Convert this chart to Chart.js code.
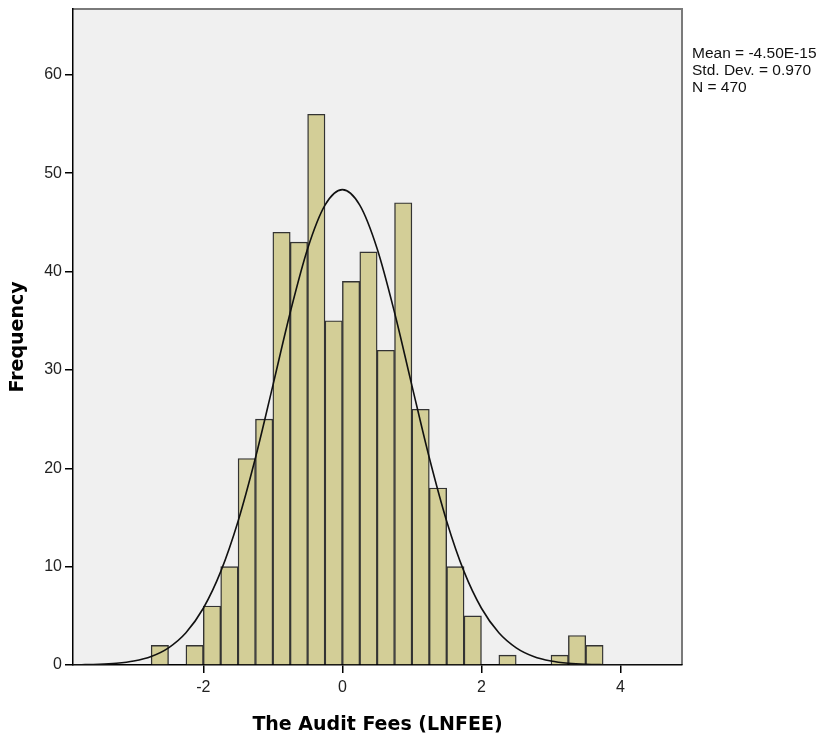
<!DOCTYPE html>
<html>
<head>
<meta charset="utf-8">
<script src="https://cdn.jsdelivr.net/npm/chart.js@4/dist/chart.umd.min.js"></script>
<style>
  html, body { margin: 0; padding: 0; background: #fff; }
  #wrap { width: 820px; height: 742px; }
</style>
</head>
<body>
<div id="wrap"><canvas id="histChart" width="820" height="742"></canvas></div>
<script>
// histogram bins (width 0.25), centres and frequencies
var binCenters = [-2.625, -2.375, -2.125, -1.875, -1.625, -1.375, -1.125, -0.875, -0.625, -0.375,
                  -0.125, 0.125, 0.375, 0.625, 0.875, 1.125, 1.375, 1.625, 1.875, 2.125,
                  2.375, 2.625, 2.875, 3.125, 3.375, 3.625];
var counts = [2, 0, 2, 6, 10, 21, 25, 44, 43, 56,
              35, 39, 42, 32, 47, 26, 18, 10, 5, 0,
              1, 0, 0, 1, 3, 2];

// normal curve
var curveX = [-3.875, -3.75, -3.5, -3.25, -3, -2.75, -2.5, -2.25, -2, -1.75, -1.5, -1.25, -1, -0.75, -0.5, -0.25,
              0, 0.25, 0.5, 0.75, 1, 1.25, 1.5, 1.75, 2, 2.25, 2.5, 2.75, 3, 3.25, 3.5, 3.75, 4, 4.25, 4.5, 4.75, 4.875];
var curveY = [0.02, 0.03, 0.07, 0.18, 0.41, 0.87, 1.75, 3.28, 5.77, 9.49, 14.62, 21.07, 28.41, 35.84, 42.32, 46.75,
              48.33, 46.75, 42.32, 35.84, 28.41, 21.07, 14.62, 9.49, 5.77, 3.28, 1.75, 0.87, 0.41, 0.18, 0.07, 0.03, 0.01, 0, 0, 0, 0];

var xTicks = [-2, 0, 2, 4];
var yTicks = [0, 10, 20, 30, 40, 50, 60];
var statLines = ['Mean = -4.50E-15', 'Std. Dev. = 0.970', 'N = 470'];

var tickFont = { family: 'Liberation Sans, Arial, sans-serif', size: 16 };
var titleFont = { family: 'DejaVu Sans, Verdana, sans-serif', size: 19, weight: 'bold' };

var framePlugin = {
    id: 'frame',
    beforeDraw: function (chart) {
        var a = chart.chartArea, ctx = chart.ctx;
        ctx.save();
        ctx.fillStyle = '#f0f0f0';
        ctx.fillRect(a.left, a.top, a.right - a.left, a.bottom - a.top);
        ctx.strokeStyle = '#7a7a7a';
        ctx.lineWidth = 2;
        ctx.beginPath();
        ctx.moveTo(a.left, a.top);
        ctx.lineTo(a.right, a.top);
        ctx.lineTo(a.right, a.bottom);
        ctx.stroke();
        ctx.restore();
    },
    afterDraw: function (chart) {
        var a = chart.chartArea, ctx = chart.ctx;
        ctx.save();
        ctx.fillStyle = '#111';
        ctx.font = '15.5px "Liberation Sans", Arial, sans-serif';
        ctx.textBaseline = 'alphabetic';
        statLines.forEach(function (s, i) {
            ctx.fillText(s, a.right + 10, 58 + i * 16.8);
        });
        ctx.restore();
    }
};

var ctx = document.getElementById('histChart');
var histChart = new Chart(ctx, {
    type: 'bar',
    data: {
        datasets: [{
            type: 'line',
            data: curveX.map(function (x, i) { return { x: x, y: curveY[i] }; }),
            borderColor: '#111',
            borderWidth: 1.6,
            pointRadius: 0,
            cubicInterpolationMode: 'monotone',
            fill: false,
            order: 0
        }, {
            type: 'bar',
            data: binCenters.map(function (x, i) { return { x: x, y: counts[i] }; }),
            backgroundColor: '#d3ce97',
            borderColor: '#333',
            borderWidth: 1.4,
            barPercentage: 1,
            categoryPercentage: 1,
            order: 1
        }]
    },
    options: {
        responsive: false,
        animation: false,
        layout: { padding: { left: 0, top: 9, right: 138, bottom: 0 } },
        plugins: { legend: { display: false }, tooltip: { enabled: false } },
        scales: {
            x: {
                type: 'linear',
                offset: false,
                min: -3.874,
                max: 4.884,
                afterBuildTicks: function (scale) {
                    scale.ticks = xTicks.map(function (v) { return { value: v }; });
                },
                afterFit: function (scale) {
                    scale.height = 77;
                    scale.paddingLeft = 0;
                    scale.paddingRight = 0;
                },
                grid: { offset: false, drawOnChartArea: false, drawTicks: true, tickLength: 8, color: '#000', lineWidth: 1.5 },
                border: { display: true, color: '#000', width: 1.5 },
                ticks: { font: tickFont, color: '#222', padding: 5, maxRotation: 0 },
                title: { display: true, text: 'The Audit Fees (LNFEE)', font: titleFont, color: '#000', padding: { top: 4, bottom: 6 } }
            },
            y: {
                min: 0,
                max: 66.7,
                afterBuildTicks: function (scale) {
                    scale.ticks = yTicks.map(function (v) { return { value: v }; });
                },
                afterFit: function (scale) {
                    scale.width = 73;
                    scale.paddingTop = 0;
                    scale.paddingBottom = 0;
                },
                grid: { drawOnChartArea: false, drawTicks: true, tickLength: 8, color: '#000', lineWidth: 1.5 },
                border: { display: true, color: '#000', width: 1.5 },
                ticks: { font: tickFont, color: '#222', padding: 3 },
                title: { display: true, text: 'Frequency', font: titleFont, color: '#000', padding: { top: 7, bottom: 0 } }
            }
        }
    },
    plugins: [framePlugin]
});
</script>
</body>
</html>
